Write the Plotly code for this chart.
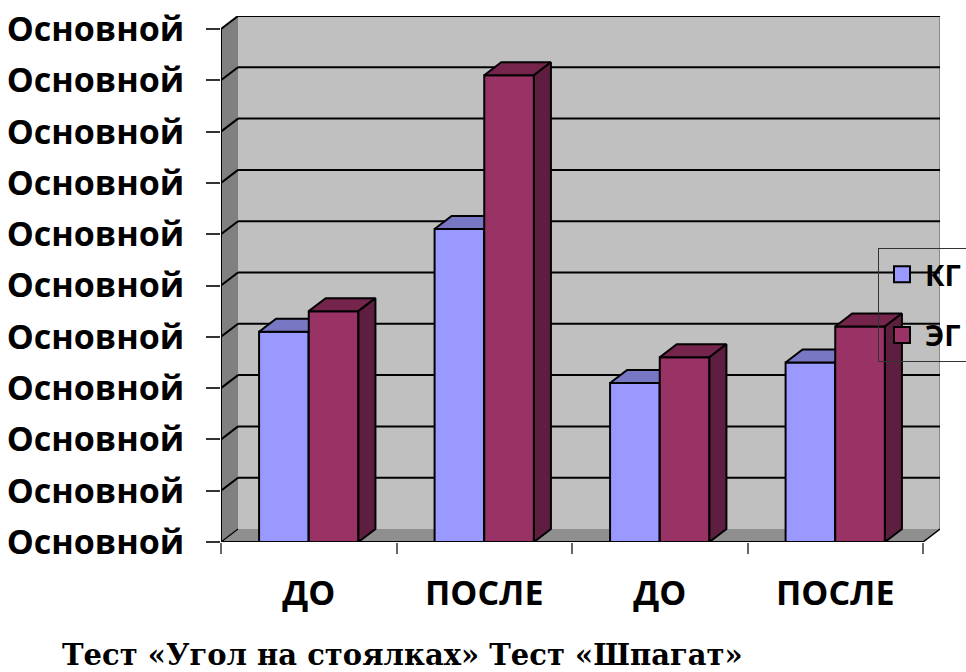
import plotly.graph_objects as go

# ---- data ----
categories = ["ДО", "ПОСЛЕ", "ДО", "ПОСЛЕ"]
series_names = ["КГ", "ЭГ"]
kg_values = [4.1, 6.1, 3.1, 3.5]
eg_values = [4.5, 9.1, 3.6, 4.2]
y_tick_values = list(range(0, 11))
y_tick_labels = ["Основной"] * len(y_tick_values)
caption = "Тест «Угол на стоялках» Тест «Шпагат»"

# ---- style ----
W, H = 966, 672
M_L, M_R, M_T, M_B = 221, 26, 16, 130
DX = 0.0969          # depth offset along the category axis
DY = 0.2534          # depth offset along the value axis
BAR_W = 0.283
Y_MAX = y_tick_values[-1]
X_MIN = -0.5
X_MAX = len(categories) - 0.5

colors = {
    "КГ": {"front": "#9999FF", "top": "#7777C4", "side": "#5C5C99"},
    "ЭГ": {"front": "#993366", "top": "#75244C", "side": "#5E1E3F"},
}
FONT_SANS = "Open Sans"


def box_faces(lefts, rights, vals):
    fx, fy, tx, ty, sx, sy = [], [], [], [], [], []
    for l, r, v in zip(lefts, rights, vals):
        fx += [l, r, r, l, l, None]
        fy += [0, 0, v, v, 0, None]
        tx += [l, r, r + DX, l + DX, l, None]
        ty += [v, v, v + DY, v + DY, v, None]
        sx += [r, r + DX, r + DX, r, r, None]
        sy += [0, DY, v + DY, v, 0, None]
    return (fx, fy), (tx, ty), (sx, sy)


idx = list(range(len(categories)))
series = [
    ("КГ", [i - BAR_W for i in idx], [i for i in idx], kg_values),
    ("ЭГ", [i for i in idx], [i + BAR_W for i in idx], eg_values),
]

fig = go.Figure()

for name, lefts, rights, vals in series:
    front, top, side = box_faces(lefts, rights, vals)
    for (xs, ys), key in ((front, "front"), (top, "top"), (side, "side")):
        fig.add_trace(go.Scatter(
            x=xs, y=ys, mode="lines", fill="toself",
            fillcolor=colors[name][key],
            line=dict(color="black", width=2),
            hoverinfo="skip", showlegend=False,
        ))

# legend entries
for k, name in enumerate(series_names):
    fig.add_trace(go.Scatter(
        x=[None], y=[None], mode="markers", name=name,
        legendgroup=f"g{k}",
        marker=dict(symbol="square", size=16, color=colors[name]["front"],
                    line=dict(color="black", width=2)),
    ))

# ---- 3D walls, floor and gridlines ----
shapes = []
shapes.append(dict(type="rect", layer="below", xref="x", yref="y",
                   x0=X_MIN + DX, x1=X_MAX + DX, y0=DY, y1=Y_MAX + DY,
                   fillcolor="#C0C0C0", line=dict(width=0)))
shapes.append(dict(type="path", layer="below", xref="x", yref="y",
                   path=f"M{X_MIN},0 L{X_MIN},{Y_MAX} L{X_MIN + DX},{Y_MAX + DY} L{X_MIN + DX},{DY} Z",
                   fillcolor="#808080", line=dict(width=0)))
shapes.append(dict(type="path", layer="below", xref="x", yref="y",
                   path=f"M{X_MIN},0 L{X_MAX},0 L{X_MAX + DX},{DY} L{X_MIN + DX},{DY} Z",
                   fillcolor="#8F8F8F", line=dict(width=0)))
shapes.append(dict(type="line", layer="below", xref="x", yref="y",
                   x0=X_MAX + DX, x1=X_MAX + DX, y0=DY, y1=Y_MAX + DY,
                   line=dict(color="#8A8A8A", width=2)))
for v in y_tick_values:
    if v > 0:
        shapes.append(dict(type="line", layer="below", xref="x", yref="y",
                           x0=X_MIN + DX, x1=X_MAX + DX, y0=v + DY, y1=v + DY,
                           line=dict(color="black", width=2)))
    shapes.append(dict(type="line", layer="below", xref="x", yref="y",
                       x0=X_MIN, x1=X_MIN + DX, y0=v, y1=v + DY,
                       line=dict(color="black", width=2 if v > 0 else 1.2)))
shapes.append(dict(type="line", layer="below", xref="x", yref="y",
                   x0=X_MAX, x1=X_MAX + DX, y0=0, y1=DY,
                   line=dict(color="black", width=1.5)))
shapes.append(dict(type="line", layer="below", xref="x", yref="y",
                   x0=X_MIN, x1=X_MIN, y0=0, y1=Y_MAX,
                   line=dict(color="black", width=2)))
shapes.append(dict(type="line", layer="below", xref="x", yref="y",
                   x0=X_MIN, x1=X_MAX, y0=0, y1=0,
                   line=dict(color="black", width=2)))

plot_w = W - M_L - M_R
plot_h = H - M_T - M_B

fig.update_layout(
    width=W, height=H,
    margin=dict(l=M_L, r=M_R, t=M_T, b=M_B, autoexpand=False),
    paper_bgcolor="white", plot_bgcolor="white",
    shapes=shapes,
    showlegend=True,
    legend=dict(
        x=(878 - M_L) / plot_w, y=(H - M_B - 248) / plot_h,
        xanchor="left", yanchor="top",
        bgcolor="rgba(0,0,0,0)", bordercolor="#333333", borderwidth=1,
        font=dict(family=FONT_SANS, size=29, color="black", weight="bold"),
        tracegroupgap=20, itemsizing="trace", itemwidth=36,
    ),
    xaxis=dict(
        range=[X_MIN, X_MAX + DX],
        tickvals=idx, ticktext=categories,
        ticks="", showgrid=False, zeroline=False, showline=False,
        tickfont=dict(family=FONT_SANS, size=34, color="black", weight="bold"),
        ticklabelstandoff=28,
        minor=dict(tickvals=[i - 0.5 for i in range(len(categories) + 1)],
                   ticks="outside", ticklen=11, tickwidth=1.5,
                   tickcolor="#666666", showgrid=False),
    ),
    yaxis=dict(
        range=[0, Y_MAX + DY],
        tickvals=y_tick_values, ticktext=y_tick_labels,
        ticks="outside", ticklen=14, tickwidth=2, tickcolor="#333333",
        showgrid=False, zeroline=False, showline=False,
        tickfont=dict(family=FONT_SANS, size=34, color="black", weight="bold"),
        ticklabelstandoff=15,
    ),
    annotations=[dict(
        text=caption, xref="paper", yref="paper",
        x=(402 - M_L) / plot_w, y=(H - M_B - 655) / plot_h,
        xanchor="center", yanchor="middle", showarrow=False,
        font=dict(family="DejaVu Serif", size=29, color="black", weight="bold"),
    )],
)

fig.write_html("out.html")
